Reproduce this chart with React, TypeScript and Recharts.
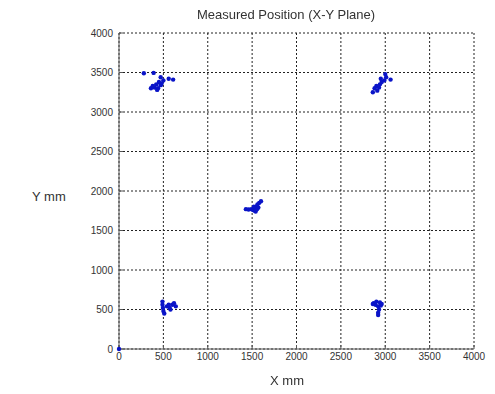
import { CartesianGrid, Scatter, ScatterChart, XAxis, YAxis } from "recharts";

const topLeft = [
  { x: 280, y: 3490 }, { x: 390, y: 3495 }, { x: 470, y: 3440 }, { x: 560, y: 3420 },
  { x: 610, y: 3410 }, { x: 500, y: 3400 }, { x: 450, y: 3380 }, { x: 420, y: 3350 },
  { x: 470, y: 3340 }, { x: 400, y: 3310 }, { x: 360, y: 3300 }, { x: 440, y: 3300 },
  { x: 480, y: 3360 }, { x: 380, y: 3330 }, { x: 430, y: 3280 },
];
const topRight = [
  { x: 3000, y: 3480 }, { x: 3060, y: 3410 }, { x: 2990, y: 3400 }, { x: 2960, y: 3380 },
  { x: 2940, y: 3350 }, { x: 2900, y: 3330 }, { x: 2930, y: 3310 }, { x: 2880, y: 3300 },
  { x: 2860, y: 3250 }, { x: 2910, y: 3270 }, { x: 3010, y: 3440 }, { x: 2950, y: 3420 },
];
const center = [
  { x: 1430, y: 1770 }, { x: 1460, y: 1765 }, { x: 1490, y: 1770 }, { x: 1510, y: 1760 },
  { x: 1530, y: 1780 }, { x: 1550, y: 1800 }, { x: 1530, y: 1750 }, { x: 1560, y: 1830 },
  { x: 1580, y: 1850 }, { x: 1600, y: 1870 }, { x: 1520, y: 1800 }, { x: 1570, y: 1790 },
  { x: 1540, y: 1740 }, { x: 1555, y: 1770 },
];
const bottomLeft = [
  { x: 490, y: 600 }, { x: 490, y: 560 }, { x: 495, y: 520 }, { x: 500, y: 480 },
  { x: 510, y: 450 }, { x: 540, y: 540 }, { x: 570, y: 520 }, { x: 600, y: 560 },
  { x: 620, y: 580 }, { x: 640, y: 540 }, { x: 580, y: 500 }, { x: 560, y: 560 },
];
const bottomRight = [
  { x: 2870, y: 580 }, { x: 2900, y: 600 }, { x: 2940, y: 590 }, { x: 2960, y: 570 },
  { x: 2890, y: 560 }, { x: 2920, y: 540 }, { x: 2930, y: 500 }, { x: 2920, y: 460 },
  { x: 2920, y: 430 }, { x: 2950, y: 550 }, { x: 2860, y: 570 },
];
const origin = [{ x: 0, y: 0 }];

const xTicks = [0, 500, 1000, 1500, 2000, 2500, 3000, 3500, 4000];
const yTicks = [0, 500, 1000, 1500, 2000, 2500, 3000, 3500, 4000];

const series = [topLeft, topRight, center, bottomLeft, bottomRight, origin];

const Dot = (props: any) => <circle cx={props.cx} cy={props.cy} r={2.2} fill="#0a14c8" />;

const tickStyle = { fontSize: 10, fill: "#333", fontFamily: "Liberation Sans, Arial, sans-serif" };

export default function App() {
  return (
    <div style={{ position: "fixed", left: 0, top: 0, width: 495, height: 394, background: "#fff", fontFamily: "Liberation Sans, Arial, sans-serif" }}>
      <ScatterChart width={495} height={394} margin={{ top: 33, right: 21, bottom: 25, left: 79 }}>
        <CartesianGrid stroke="#222" strokeDasharray="2 2" />
        <XAxis
          type="number"
          dataKey="x"
          domain={[0, 4000]}
          ticks={xTicks}
          tick={tickStyle}
          tickSize={-4}
          tickMargin={8}
          stroke="#555"
          height={20}
          interval={0}
        />
        <XAxis
          xAxisId="top"
          orientation="top"
          type="number"
          dataKey="x"
          domain={[0, 4000]}
          ticks={xTicks}
          tickFormatter={() => ""}
          tickSize={-4}
          stroke="#555"
          height={0}
        />
        <YAxis
          type="number"
          dataKey="y"
          domain={[0, 4000]}
          ticks={yTicks}
          tick={tickStyle}
          tickSize={-4}
          tickMargin={10}
          stroke="#555"
          width={40}
          interval={0}
        />
        <YAxis
          yAxisId="right"
          orientation="right"
          type="number"
          dataKey="y"
          domain={[0, 4000]}
          ticks={yTicks}
          tickFormatter={() => ""}
          tickSize={-4}
          stroke="#555"
          width={0}
        />
        {series.map((d, i) => (
          <Scatter key={i} data={d} shape={Dot} isAnimationActive={false} />
        ))}
      </ScatterChart>
      <div style={{ position: "absolute", top: 7, left: 0, width: 572, textAlign: "center", fontSize: 13, color: "#333" }}>
        Measured Position (X-Y Plane)
      </div>
      <div style={{ position: "absolute", top: 189, left: 32, fontSize: 13, color: "#333" }}>Y mm</div>
      <div style={{ position: "absolute", top: 373, left: 0, width: 574, textAlign: "center", fontSize: 13, color: "#333" }}>
        X mm
      </div>
    </div>
  );
}
